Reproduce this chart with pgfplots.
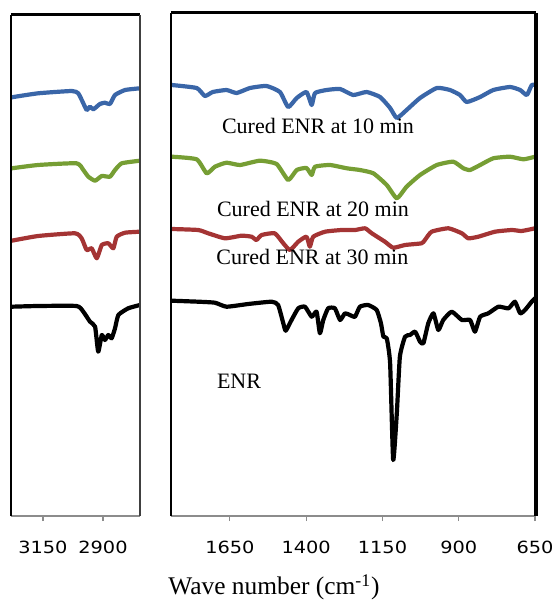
\documentclass[border=0pt]{standalone}
\usepackage{pgfplots}
\pgfplotsset{compat=1.18}
\usepackage{fontspec}
\setmainfont{Liberation Serif}
\newfontfamily\tickfont[FakeStretch=1.15]{DejaVu Sans}

\definecolor{cblue}{RGB}{58,102,168}
\definecolor{cgreen}{RGB}{118,158,52}
\definecolor{cred}{RGB}{164,52,52}
\definecolor{cgray}{RGB}{140,140,140}

\pgfplotsset{
  spec/.style={
    scale only axis, anchor=south west,
    x dir=reverse, ymin=0,
    axis x line*=bottom, axis y line=none,
    x axis line style={cgray, line width=1pt},
    xtick align=outside, major tick length=2.5pt,
    xtick style={cgray, line width=0.6pt},
    xticklabel style={font=\tickfont\fontsize{8.4}{9}\selectfont, yshift=-6.5pt},
    every axis plot/.append style={line width=2.1pt, line join=round, line cap=round, smooth, tension=0.3},
  },
}

\begin{document}
\begin{tikzpicture}
\useasboundingbox (0,0) rectangle (278pt,300.5pt);

% left panel: C-H stretching region
\begin{axis}[spec,
  at={(5.5pt,42.5pt)}, width=64.5pt, height=250.5pt,
  xmin=2746, xmax=3283, ymax=501,
  xtick={3150,2900}, xticklabels={3150,2900},
  after end axis/.code={
    \draw[black, line width=0.6pt] (rel axis cs:0,0) -- (rel axis cs:0,1);
    \draw[black, line width=1.5pt] (rel axis cs:0,1) -- (rel axis cs:1,1);
    \draw[darkgray, line width=0.6pt] (rel axis cs:1,0) -- (rel axis cs:1,1);
  },
]
\addplot[cblue] coordinates {
  (3280,418.7) (3170,422.7) (3030,425) (3003,422.7) (2982,412.7) (2968,406)
  (2954,409.3) (2940,406.7) (2913,412) (2892,413.3) (2871,412) (2850,421)
  (2808,426) (2746,427.7)
};
\addplot[cgreen] coordinates {
  (3280,347.7) (3170,351) (3010,352.7) (2982,346) (2961,339.3) (2933,335.3)
  (2905,340) (2871,339.3) (2850,346) (2822,352.7) (2746,355.3)
};
\addplot[cred] coordinates {
  (3280,275.3) (3170,280) (3017,282.7) (2989,277.7) (2968,266) (2947,267.7)
  (2926,257.7) (2905,271) (2878,272.7) (2857,267.7) (2843,279.3) (2808,283.3)
  (2746,284.3)
};
\addplot[black] coordinates {
  (3280,209.3) (3170,210) (3010,210) (2982,204.3) (2954,194.3) (2933,189.3)
  (2920,164.3) (2905,181) (2892,176) (2878,181) (2864,177.7) (2850,187.7)
  (2836,201) (2795,207.7) (2746,211)
};
\end{axis}

% right panel: fingerprint region
\begin{axis}[spec,
  at={(85.5pt,42.5pt)}, width=182.5pt, height=251.5pt,
  xmin=647, xmax=1843, ymax=503,
  xtick={1650,1400,1150,900,650}, xticklabels={1650,1400,1150,900,650},
  after end axis/.code={
    \draw[black, line width=0.6pt] (rel axis cs:0,0) -- (rel axis cs:0,1);
    \draw[black, line width=1.5pt] (rel axis cs:0,1) -- (rel axis cs:1,1);
    \draw[black, line width=2pt] (rel axis cs:1,0) -- (rel axis cs:1,1);
  },
]
\addplot[cblue] coordinates {
  (1841,431) (1759,428) (1732,420) (1706,424) (1661,426) (1628,423) (1584,428)
  (1530,430) (1486,424) (1459,409) (1431,418) (1399,424) (1382,411) (1371,423)
  (1333,426) (1289,427) (1246,421) (1202,424) (1158,419) (1125,408) (1103,398)
  (1071,406) (1027,418) (972,428) (929,426) (896,421) (874,414) (830,419)
  (787,426) (732,429) (699,426) (677,421) (661,431) (650,431)
};
\addplot[cgreen] coordinates {
  (1841,359.3) (1759,356.7) (1726,342.7) (1699,349.3) (1661,353.3) (1617,351)
  (1552,355.3) (1497,352) (1459,336) (1431,346) (1399,348) (1382,341)
  (1371,349.3) (1322,351) (1267,347.7) (1224,346) (1180,342.7) (1136,331)
  (1103,317.7) (1071,329.3) (1027,341) (972,351) (918,354.3) (885,347.7)
  (863,346) (830,351) (787,357.7) (732,359.3) (688,356.7) (650,359.3)
};
\addplot[cred] coordinates {
  (1841,287) (1754,286) (1721,282.7) (1666,277.7) (1612,280.3) (1579,279.3)
  (1563,276) (1546,281) (1503,282.7) (1475,272.7) (1453,266) (1426,274.3)
  (1399,279.3) (1388,269.3) (1377,279.3) (1338,284.3) (1284,286) (1240,286)
  (1207,287.7) (1185,282.7) (1142,274.3) (1115,268.3) (1076,271) (1022,272.7)
  (1011,276) (989,284.3) (934,287.7) (890,282.7) (869,277.7) (836,279.3)
  (781,284.3) (726,286) (694,285) (650,287.7)
};
\addplot[black] coordinates {
  (1841,215.3) (1754,214.3) (1699,213.3) (1661,209.3) (1590,212) (1513,214.3)
  (1492,211) (1475,192.7) (1467,185.3) (1448,196) (1426,207.7) (1404,209.3)
  (1382,199.3) (1366,204.3) (1355,182.7) (1344,196) (1328,207.7) (1306,207.7)
  (1289,196) (1273,202.7) (1257,201) (1240,199.3) (1224,209.3) (1197,211)
  (1169,206) (1155,192.7) (1147,179.3) (1136,177.7) (1125,152.7) (1115,56)
  (1103,103) (1093,159.3) (1076,179.3) (1060,181) (1043,184.3) (1027,174.3)
  (1016,172.7) (1000,192.7) (983,202.7) (967,186) (951,196) (923,204.3)
  (890,196) (863,196) (847,184.3) (830,199.3) (803,202.7) (770,209.3)
  (737,207.7) (716,214.3) (699,202.7) (683,206) (661,214.3) (650,217.7)
};
\end{axis}

\begin{scope}[every node/.style={anchor=base west, inner sep=0pt, font=\fontsize{11}{13}\selectfont}]
\node at (110.8pt,233.5pt) {Cured ENR at 10 min};
\node at (108.3pt,192.2pt) {Cured ENR at 20 min};
\node at (108.0pt,168.0pt) {Cured ENR at 30 min};
\node at (108.3pt,106.5pt) {ENR};
\end{scope}
\node[anchor=base, inner sep=0pt, font=\fontsize{12.7}{15}\selectfont]
  at (137pt,3pt) {Wave number (cm\textsuperscript{-1})};
\end{tikzpicture}
\end{document}
